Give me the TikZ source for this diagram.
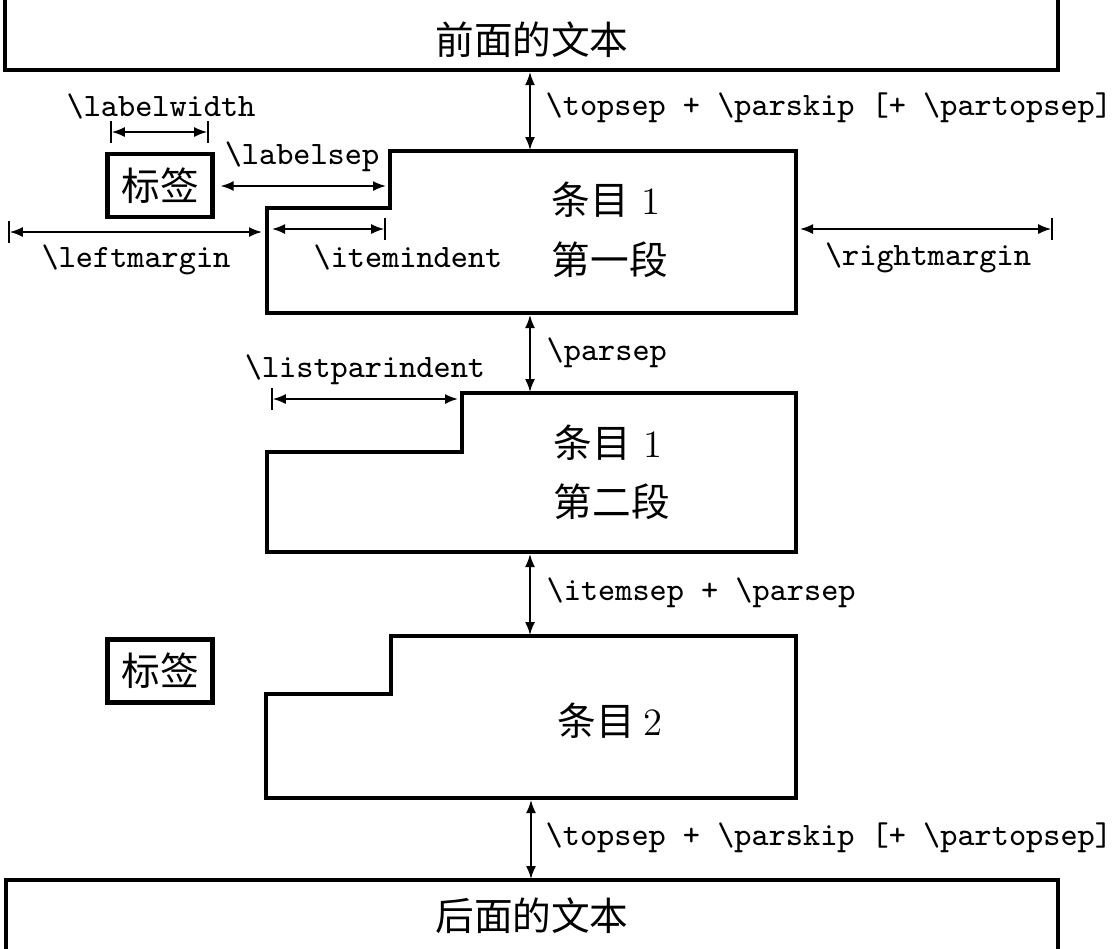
\documentclass[tikz,border=0pt]{standalone}
\usepackage{fontspec}
\newfontfamily\cjk{Noto Sans CJK SC}
\usetikzlibrary{arrows.meta}

\tikzset{
  >={Latex[length=1.3mm,width=1mm]},
  |/.tip={Bar[width=2.2mm]},
  itembox/.style={line width=1.2pt, line join=miter},
  dimline/.style={line width=0.5pt},
  lenlabel/.style={font=\fontsize{9.3}{11}\selectfont\ttfamily, inner sep=0pt},
  bodytext/.style={font=\fontsize{11}{13}\selectfont\cjk, inner sep=0pt},
  labelbox/.style={draw, line width=1.2pt, minimum width=1.05cm, minimum height=0.63cm,
    inner sep=0pt, font=\fontsize{11}{13}\selectfont\cjk}
}

\begin{document}
\begin{tikzpicture}
  \useasboundingbox (0,0) rectangle (11.19,-9.49);

  % Text before the list
  \draw[itembox] (0.05,0.1) -- (0.05,-0.70) coordinate (pre-bl) -- (10.58,-0.70) -- (10.58,0.1);
  \node[bodytext] (pre) at (5.32,-0.40) {前面的文本};

  % First item, first paragraph
  \draw[itembox] (3.90,-1.51) coordinate (one-top) -- (7.96,-1.51) -- (7.96,-3.13)
    -- (2.67,-3.13) -- (2.67,-2.08) -- (3.90,-2.08) -- cycle;
  \coordinate (one-a) at (5.30,-0.72);
  \coordinate (one-b) at (5.30,-1.50);
  \coordinate (one-step) at (3.86,-1.86);
  \coordinate (one-left) at (2.62,-2.32);
  \coordinate (one-in) at (2.72,-2.29);
  \coordinate (one-ind) at (3.86,-2.29);
  \coordinate (one-right) at (8.00,-2.29);
  \coordinate (right-end) at (10.53,-2.29);
  \coordinate (left-end) at (0.08,-2.32);
  \node[labelbox] (lab1) at (1.60,-1.855) {标签};
  \coordinate (lw-a) at (1.10,-1.32);
  \coordinate (lw-b) at (2.09,-1.32);
  \node[bodytext, anchor=west] (one-t1) at (5.51,-2.00) {条目\hspace{0.12cm}\rmfamily 1};
  \node[bodytext, anchor=west] (one-t2) at (5.51,-2.60) {第一段};

  \draw[dimline, <->] (one-a) -- (one-b);
  \node[lenlabel, anchor=west] (topsep1) at (5.45,-1.08) {\textbackslash topsep + \textbackslash parskip [+ \textbackslash partopsep]};
  \draw[dimline, |<->|] (lw-a) -- (lw-b);
  \node[lenlabel] (lw) at (1.61,-1.07) {\textbackslash labelwidth};
  \draw[dimline, <->] ([xshift=0.6mm]lab1.east |- one-step) -- (one-step);
  \node[lenlabel] (ls) at (3.02,-1.57) {\textbackslash labelsep};
  \draw[dimline, |<->] (left-end) -- (one-left);
  \node[lenlabel] (lm) at (1.36,-2.60) {\textbackslash leftmargin};
  \draw[dimline, <->|] (one-in) -- (one-ind);
  \node[lenlabel] (ii) at (4.08,-2.58) {\textbackslash itemindent};
  \draw[dimline, <->|] (one-right) -- (right-end);
  \node[lenlabel] (rm) at (9.28,-2.58) {\textbackslash rightmargin};

  % First item, second paragraph
  \draw[itembox] (4.62,-3.93) -- (7.96,-3.93) -- (7.96,-5.52)
    -- (2.67,-5.52) -- (2.67,-4.52) -- (4.62,-4.52) -- cycle;
  \coordinate (two-a) at (5.30,-3.15);
  \coordinate (two-b) at (5.30,-3.92);
  \coordinate (lp-a) at (2.71,-3.99);
  \coordinate (lp-b) at (4.58,-3.99);
  \node[bodytext, anchor=west] (two-t1) at (5.53,-4.43) {条目\hspace{0.12cm}\rmfamily 1};
  \node[bodytext, anchor=west] (two-t2) at (5.53,-5.02) {第二段};

  \draw[dimline, <->] (two-a) -- (two-b);
  \node[lenlabel, anchor=west] (ps) at (5.46,-3.53) {\textbackslash parsep};
  \draw[dimline, |<->] (lp-a) -- (lp-b);
  \node[lenlabel] (lpi) at (3.65,-3.70) {\textbackslash listparindent};

  % Second item
  \draw[itembox] (3.91,-6.36) -- (7.96,-6.36) -- (7.96,-7.98)
    -- (2.66,-7.98) -- (2.66,-6.94) -- (3.91,-6.94) -- cycle;
  \coordinate (three-a) at (5.30,-5.54);
  \coordinate (three-b) at (5.30,-6.35);
  \node[labelbox] (lab2) at (1.60,-6.71) {标签};
  \node[bodytext, anchor=west] (three-t) at (5.57,-7.21) {条目\hspace{0.08cm}\rmfamily 2};

  \draw[dimline, <->] (three-a) -- (three-b);
  \node[lenlabel, anchor=west] (is) at (5.46,-5.93) {\textbackslash itemsep + \textbackslash parsep};

  % Text after the list
  \draw[itembox] (0.06,-9.6) -- (0.06,-8.80) -- (10.58,-8.80) -- (10.58,-9.6);
  \coordinate (post-a) at (5.31,-8.00);
  \coordinate (post-b) at (5.31,-8.79);
  \node[bodytext] (post) at (5.32,-9.16) {后面的文本};

  \draw[dimline, <->] (post-a) -- (post-b);
  \node[lenlabel, anchor=west] (topsep2) at (5.45,-8.38) {\textbackslash topsep + \textbackslash parskip [+ \textbackslash partopsep]};
\end{tikzpicture}
\end{document}
